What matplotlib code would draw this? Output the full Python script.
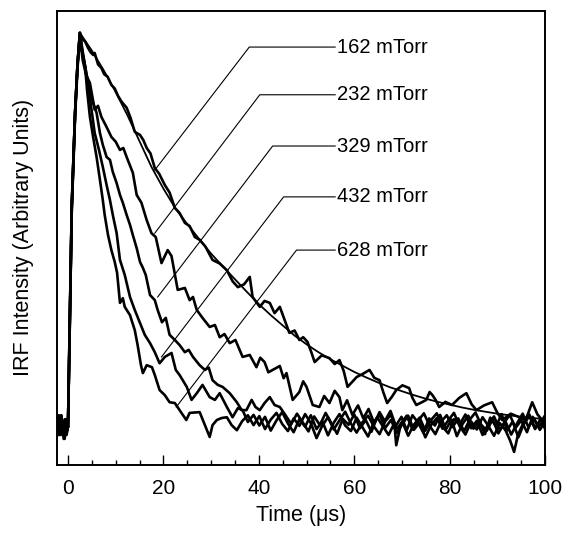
import matplotlib
matplotlib.use("Agg")
import matplotlib.pyplot as plt
from matplotlib.ticker import MultipleLocator

plt.rcParams['font.family'] = ['Liberation Sans', 'DejaVu Sans']

labels = ["162 mTorr", "232 mTorr", "329 mTorr", "432 mTorr", "628 mTorr"]

t162 = [-2.2, -1.8, -1.4, -1.0, -0.6, -0.3, 0.0, 0.3, 0.8, 1.5, 2.0, 2.5,
        3.0, 3.6, 4.2, 4.8, 5.3, 5.6, 6.3, 7.0, 7.6, 8.3,
        9.1, 9.8, 10.5, 11.2, 12.3, 13.1, 14.0, 15.1, 15.8, 16.5,
        17.3, 18.2, 19.1, 20.3, 21.3, 22.4, 23.4, 24.5, 25.5, 26.6,
        27.6, 28.8, 30.3, 31.8, 33.3, 34.5, 35.6, 36.9, 38.1, 38.7,
        40.2, 41.2, 42.3, 43.3, 44.4, 45.4, 46.4, 47.5, 48.5, 49.3,
        50.2, 51.0, 51.7, 53.2, 54.8, 55.9, 56.9, 57.8, 58.6, 59.6,
        60.5, 61.8, 63.2, 64.2, 65.3, 66.1, 66.9, 67.9, 68.8, 70.1,
        71.5, 72.2, 73.0, 74.0, 75.1, 75.8, 76.4, 77.1, 77.8, 79.1,
        80.5, 82.0, 83.5, 84.6, 85.6, 87.2, 88.9, 90.0, 91.0, 92.8,
        94.6, 95.9, 97.3, 98.4, 99.4, 100.0]
v162 = [1, -2, 3, -1, 2, -2, 0, 22, 56, 80, 92, 100,
        98.5, 97.8, 96.2, 95.0, 94.4, 94.9, 92.0, 91.1, 89.5, 88.9,
        86.8, 85.9, 84.0, 82.6, 81.0, 78.5, 74.9, 74.1, 72.8, 70.8,
        69.4, 65.7, 64.3, 61.4, 59.5, 55.6, 54.3, 51.8, 51.0, 48.2,
        47.5, 45.8, 42.4, 41.5, 39.8, 37.0, 35.5, 36.2, 38.1, 33.0,
        30.5, 32.0, 31.5, 28.9, 30.5, 27.2, 23.9, 24.5, 22.1, 22.8,
        21.6, 19.0, 16.5, 18.2, 17.5, 16.0, 17.0, 14.2, 10.2, 11.5,
        12.7, 13.5, 14.5, 12.5, 11.9, 8.8, 6.1, 7.7, 9.4, 10.6,
        9.9, 7.4, 5.6, 6.2, 6.9, 8.9, 8.1, 6.8, 5.1, 6.4,
        5.6, 7.4, 8.6, 5.8, 4.3, 5.5, 6.3, 3.6, 1.8, 3.4,
        2.5, 1.7, 6.3, 3.2, 1.8, 3.0]

t232 = [-2.2, -1.9, -1.5, -1.1, -0.7, -0.3, 0.0, 0.3, 0.8, 1.5, 2.0, 2.5,
        3.1, 3.8, 4.6, 5.6, 6.3, 7.0, 8.1, 9.1, 10.0, 10.9,
        11.6, 12.3, 13.6, 14.4, 15.4, 16.5, 17.5, 18.4, 19.6, 20.9,
        21.7, 23.0, 24.5, 25.5, 26.2, 27.0, 28.2, 29.7, 30.8, 31.8,
        32.8, 33.9, 35.1, 36.6, 38.1, 39.5, 40.3, 41.2, 42.0, 42.9,
        44.4, 45.2, 45.8, 47.1, 48.5, 49.3, 50.0, 51.3, 52.7, 53.7,
        54.8, 55.9, 56.9, 57.5, 58.5, 59.6, 60.8, 61.9, 63.0, 64.2,
        65.3, 66.4, 67.6, 68.7, 69.9, 71.0, 72.2, 73.4, 74.5, 75.7,
        76.9, 78.0, 79.2, 80.4, 81.5, 82.7, 83.9, 85.0, 86.2, 87.4,
        88.5, 89.7, 90.9, 92.0, 93.2, 94.4, 95.5, 96.7, 97.9, 99.0,
        100.0]
v232 = [-1, 2, -2, 1, -3, 1, 0, 20, 55, 79, 91, 99,
        93.0, 89.3, 87.3, 80.5, 81.5, 78.7, 76.1, 73.6, 72.4, 70.3,
        70.8, 68.5, 64.5, 58.9, 56.9, 52.5, 49.2, 48.2, 41.6, 44.9,
        43.4, 34.8, 35.3, 32.2, 33.0, 29.7, 27.7, 25.4, 25.9, 22.8,
        23.6, 21.3, 22.1, 17.8, 18.3, 15.2, 17.6, 16.5, 13.9, 14.5,
        15.5, 12.4, 13.7, 6.9, 8.9, 11.6, 10.2, 5.6, 5.1, 7.9,
        6.1, 9.2, 7.6, 4.3, 6.8, 3.1, 5.5, 2.2, 4.6, 0.9,
        3.8, 1.5, 4.1, 0.3, 2.6, -0.8, 3.0, 1.1, -1.5, 2.2,
        0.4, 3.1, -0.6, 1.9, -2.3, 0.8, 2.9, -0.4, 1.6, -1.8,
        2.4, 0.2, 3.3, -0.9, 1.4, -2.6, 0.7, 2.8, -0.5, 1.9,
        0.4]

t329 = [-2.2, -1.7, -1.3, -0.9, -0.5, -0.2, 0.0, 0.3, 0.8, 1.5, 2.0, 2.5,
        3.1, 3.8, 4.6, 5.2, 6.0, 6.7, 7.3, 8.1, 8.8, 9.4,
        10.2, 10.9, 11.5, 12.3, 13.0, 13.6, 14.4, 15.1, 15.7, 16.3,
        17.2, 18.2, 18.8, 19.7, 20.5, 21.3, 22.4, 23.4, 24.5, 25.3,
        26.2, 27.6, 28.7, 29.5, 30.3, 31.4, 32.4, 33.9, 35.4, 36.4,
        37.4, 38.5, 39.3, 40.2, 41.2, 42.3, 43.3, 44.4, 45.6, 46.8,
        48.0, 49.2, 50.4, 51.6, 52.8, 54.0, 55.2, 56.4, 57.6, 58.8,
        60.0, 61.2, 62.4, 63.6, 64.8, 66.0, 67.2, 68.4, 68.8, 69.8,
        71.0, 72.2, 73.4, 74.6, 75.8, 77.0, 78.2, 79.4, 80.6, 81.8,
        83.0, 84.2, 85.4, 86.6, 87.8, 89.0, 90.2, 91.4, 92.6, 93.8,
        95.0, 96.2, 97.4, 98.6, 100.0]
v329 = [2, -1, 1, -3, 2, -1, 0, 21, 56, 80, 92, 100,
        95.2, 90.1, 85.0, 82.5, 79.7, 74.6, 71.6, 68.5, 67.8, 64.7,
        61.9, 58.9, 56.9, 53.8, 51.3, 48.7, 45.4, 41.9, 40.4, 38.6,
        33.5, 32.2, 29.7, 26.6, 27.7, 23.4, 22.1, 20.8, 19.0, 19.6,
        17.8, 15.7, 14.5, 15.1, 11.9, 10.7, 10.2, 8.6, 6.3, 4.3,
        4.3, 6.9, 5.1, 4.3, 6.1, 7.6, 5.6, 5.1, 3.0, 0.8,
        3.4, 1.2, -1.1, 2.7, 0.5, 3.6, 1.0, -1.7, 2.1, 0.6,
        3.2, -0.3, 1.8, -1.2, 2.5, 0.2, -2.0, 1.0, -4.6, 0.9,
        2.9, -0.6, 1.6, 3.5, 0.3, -1.8, 1.4, 3.0, 0.0, 2.2,
        -1.1, 1.9, 3.7, 0.6, -0.9, 2.0, -1.6, 1.1, 3.1, -0.2,
        1.7, -1.3, 2.6, 0.1, 1.9]

t432 = [-2.2, -1.8, -1.4, -1.0, -0.6, -0.3, 0.0, 0.3, 0.8, 1.5, 2.0, 2.5,
        3.1, 3.6, 4.2, 4.8, 5.6, 6.5, 7.3, 8.1, 8.8, 9.4,
        10.2, 10.9, 11.9, 13.0, 14.0, 15.1, 16.1, 17.2, 18.2, 19.2,
        20.3, 21.7, 22.6, 23.4, 24.9, 25.9, 27.0, 28.2, 29.7, 30.8,
        31.8, 33.3, 34.5, 35.6, 36.6, 37.7, 38.9, 40.1, 41.3, 42.5,
        43.7, 44.9, 46.1, 47.3, 48.5, 49.7, 50.9, 52.1, 53.3, 54.5,
        55.7, 56.9, 58.1, 59.3, 60.5, 61.7, 62.9, 64.1, 65.3, 66.5,
        67.7, 68.9, 70.1, 71.3, 72.5, 73.7, 74.9, 76.1, 77.3, 78.5,
        79.7, 80.9, 82.1, 83.3, 84.5, 85.7, 86.9, 88.1, 89.3, 90.5,
        91.7, 92.7, 93.5, 94.3, 95.5, 96.7, 97.9, 99.1, 100.0]
v432 = [-2, 1, 3, -1, 0, 2, 0, 21, 57, 80, 92, 100,
        94.4, 91.4, 87.3, 81.7, 74.6, 70.3, 66.0, 61.4, 57.6, 53.8,
        49.2, 42.4, 38.6, 33.0, 29.7, 26.4, 23.4, 21.3, 19.0, 16.2,
        17.8, 18.8, 14.5, 13.2, 10.2, 6.9, 8.6, 10.7, 7.6, 6.9,
        8.6, 5.1, 2.5, 4.8, 4.3, 1.3, 3.1, 0.4, 2.6, -0.9,
        1.7, 3.8, 0.9, -1.3, 2.0, 0.1, 3.0, -0.5, 1.5, -2.1,
        1.1, 3.3, 0.4, -1.0, 2.4, 0.0, -2.4, 1.3, 3.1, -0.2,
        1.8, -1.5, 0.8, 2.9, -0.7, 1.2, -2.6, 0.5, 2.3, -0.4,
        1.7, 3.6, 0.2, -1.9, 1.4, -0.6, 2.5, 0.3, -2.2, 1.0,
        -0.8, -3.5, -6.3, -2.0, 1.2, 3.2, -0.3, 2.0, -0.5]

t628 = [-2.2, -1.9, -1.5, -1.2, -0.8, -0.4, 0.0, 0.3, 0.8, 1.5, 2.0, 2.5,
        2.9, 3.6, 4.0, 4.6, 5.2, 6.0, 6.7, 7.3, 7.7, 8.4,
        9.1, 9.8, 10.3, 10.9, 11.5, 11.9, 13.0, 14.0, 14.6, 15.3,
        15.7, 16.5, 17.6, 18.2, 19.2, 20.3, 21.3, 22.4, 23.4, 24.8,
        25.5, 27.6, 28.7, 29.7, 30.3, 31.2, 32.2, 33.3, 34.3, 35.4,
        36.5, 37.7, 38.9, 40.1, 41.3, 42.5, 43.7, 44.9, 46.1, 47.3,
        48.5, 49.7, 50.9, 52.1, 53.3, 54.5, 55.7, 56.9, 58.1, 59.3,
        60.5, 61.7, 62.9, 64.1, 65.3, 66.5, 67.7, 68.9, 70.1, 71.3,
        72.5, 73.7, 74.9, 76.1, 77.3, 78.5, 79.7, 80.9, 82.1, 83.3,
        84.5, 85.7, 86.9, 88.1, 89.3, 90.5, 91.7, 92.9, 94.1, 95.3,
        96.5, 97.7, 98.9, 100.0]
v628 = [0, 3, -1, 2, -2, 1, 0, 20, 56, 80, 92, 100,
        95.7, 91.4, 85.5, 78.7, 74.1, 68.5, 62.7, 57.6, 53.8, 48.7,
        44.9, 41.9, 39.1, 31.5, 32.7, 30.5, 28.4, 24.6, 20.8, 15.7,
        13.7, 15.7, 15.2, 13.2, 9.4, 8.1, 6.3, 6.1, 4.3, 1.8,
        3.6, 3.8, 0.5, -2.5, 0.5, 1.8, 2.3, 2.5, 0.5, -0.8,
        1.5, 3.0, 0.5, 2.8, -0.5, 1.9, 3.6, 0.8, -1.0, 2.2,
        0.3, 3.3, 1.0, -2.8, 0.4, 2.5, -0.6, 1.7, 3.9, 0.9,
        -1.4, 1.2, 2.9, 0.2, -1.8, 1.5, 3.1, -0.4, 1.3, -2.2,
        0.6, 2.4, -0.9, 1.8, 3.5, 0.1, -1.6, 2.0, 0.7, 3.2,
        -0.3, 1.6, -2.0, 0.8, 2.7, -0.8, 1.4, -1.9, 0.9, 3.4,
        0.0, 2.1, -0.7, 1.5]

# smooth fit through the 162 mTorr trace
t_fit = [2.5, 5, 7.5, 10, 12.5, 15, 17.5, 20, 22.5, 25, 27.5, 30, 32.5,
         35, 37.5, 40, 42.5, 45, 47.5, 50, 52.5, 55, 57.5, 60, 62.5, 65,
         67.5, 70, 72.5, 75, 77.5, 80, 82.5, 85, 87.5, 90, 92.5, 95, 97.5, 100]
v_fit = [100, 95.5, 90.5, 85, 79, 72.5, 66, 60.5, 55.5, 51.5, 47.7, 44, 40.7,
         37.5, 34.3, 31.2, 28.4, 25.8, 23.2, 21, 19, 17.2, 15.6, 14.0, 12.6, 11.3,
         10.1, 9.1, 8.1, 7.2, 6.4, 5.7, 5.0, 4.4, 3.9, 3.4, 3.0, 2.6, 2.3, 2.0]

xticks = [0, 20, 40, 60, 80, 100]

fig = plt.figure(figsize=(5.69, 5.40), dpi=100)
ax = fig.add_axes([0.101, 0.139, 0.857, 0.841])

for t, v in [(t628, v628), (t432, v432), (t329, v329), (t232, v232), (t162, v162)]:
    ax.plot(t, v, color='black', lw=1.9, solid_joinstyle='round')
ax.plot(t_fit, v_fit, color='black', lw=1.3)

# leader lines and labels: (curve point, corner) in data coordinates
leaders = [((18.2, 65.2), (38.0, 96.4)),
           ((18.2, 49.2), (40.2, 84.3)),
           ((18.8, 33.0), (42.9, 71.3)),
           ((19.6, 17.8), (45.2, 58.4)),
           ((22.7, 5.1), (47.9, 44.9))]
for lab, (p0, p1) in zip(labels, leaders):
    ax.plot([p0[0], p1[0], 56.0], [p0[1], p1[1], p1[1]], color='black', lw=0.8)
    ax.text(56.4, p1[1], lab, fontsize=14.5, va='center', ha='left')

ax.set_xlim(-2.2, 100)
ax.set_ylim(-9.6, 105.6)
ax.set_xticks(xticks)
ax.xaxis.set_minor_locator(MultipleLocator(5))
ax.tick_params(axis='x', which='major', direction='in', length=7, width=1.0,
               labelsize=15, pad=10, top=False)
ax.tick_params(axis='x', which='minor', direction='in', length=3.5, width=1.0, top=False)
ax.set_yticks([])
for s in ax.spines.values():
    s.set_linewidth(1.4)

ax.set_xlabel("Time (μs)", fontsize=15.5, labelpad=5)
ax.set_ylabel("IRF Intensity (Arbitrary Units)", fontsize=15.5, labelpad=17)

fig.savefig("out.png", dpi=100)
